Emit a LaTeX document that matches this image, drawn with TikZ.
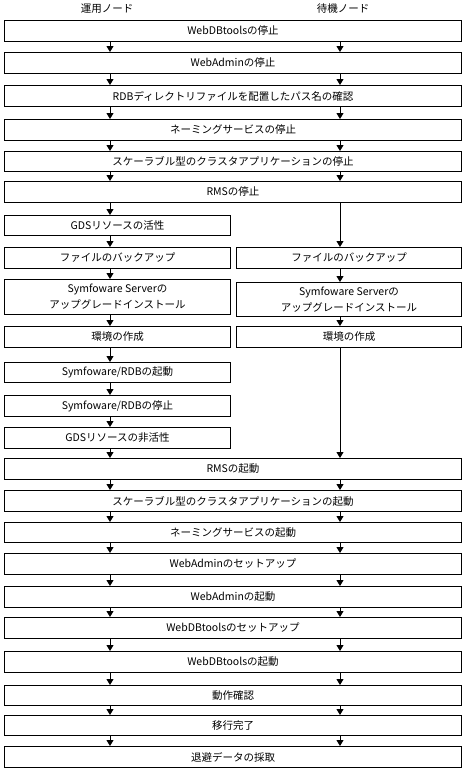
\documentclass[tikz,border=0pt]{standalone}
\usepackage{fontspec}
\setmainfont{Noto Sans CJK JP}
\usetikzlibrary{arrows.meta}
\tikzset{
  box/.style={draw, line width=1pt, inner sep=0pt, anchor=north west, align=center,
    font=\fontsize{10.5}{16}\selectfont},
  full/.style={box, minimum width=457, minimum height=21},
  lbox/.style={box, minimum width=226, minimum height=21},
  rbox/.style={box, minimum width=225, minimum height=21},
  hdr/.style={inner sep=0pt, font=\fontsize{10.5}{13}\selectfont},
  arr/.style={line width=1pt, -{Triangle[width=7pt,length=6pt]}}
}
\begin{document}
\begin{tikzpicture}[x=1pt,y=-1pt]
\useasboundingbox (0,0) rectangle (466,774);
\fill[white] (0,0) rectangle (466,774);
\coordinate (cL) at (110,0);
\coordinate (cR) at (340,0);
\node[hdr] (h1) at (107,9) {運用ノード};
\node[hdr] (h2) at (343,9) {待機ノード};

\node[full] (b1) at (4,20) {WebDBtoolsの停止};
\node[full] (b2) at (4,52) {WebAdminの停止};
\node[full] (b3) at (4,85) {RDBディレクトリファイルを配置したパス名の確認};
\node[full] (b4) at (4,119) {ネーミングサービスの停止};
\node[full, minimum height=20] (b5) at (4,151) {スケーラブル型のクラスタアプリケーションの停止};
\node[full] (b6) at (4,181) {RMSの停止};

\node[lbox, minimum height=20] (l1) at (4,215) {GDSリソースの活性};
\node[lbox] (l2) at (4,247) {ファイルのバックアップ};
\node[rbox] (r2) at (236,247) {ファイルのバックアップ};
\node[lbox, minimum height=35] (l3) at (4,279) {Symfoware Serverの\\アップグレードインストール};
\node[rbox, minimum height=34] (r3) at (236,282) {Symfoware Serverの\\アップグレードインストール};
\node[lbox] (l4) at (4,326) {環境の作成};
\node[rbox] (r4) at (236,326) {環境の作成};
\node[lbox, minimum height=20] (l5) at (4,362) {Symfoware/RDBの起動};
\node[lbox] (l6) at (4,395) {Symfoware/RDBの停止};
\node[lbox] (l7) at (4,427) {GDSリソースの非活性};

\node[full] (b7) at (4,458) {RMSの起動};
\node[full] (b8) at (4,490) {スケーラブル型のクラスタアプリケーションの起動};
\node[full, minimum height=20] (b9) at (4,522) {ネーミングサービスの起動};
\node[full] (b10) at (4,553) {WebAdminのセットアップ};
\node[full] (b11) at (4,586) {WebAdminの起動};
\node[full] (b12) at (4,617) {WebDBtoolsのセットアップ};
\node[full] (b13) at (4,651) {WebDBtoolsの起動};
\node[full, minimum height=20] (b14) at (4,685) {動作確認};
\node[full, minimum height=20] (b15) at (4,715) {移行完了};
\node[full] (b16) at (4,746) {退避データの採取};

% arrows on both columns between full boxes
\foreach \a/\b in {b1/b2,b2/b3,b3/b4,b4/b5,b5/b6,b7/b8,b8/b9,b9/b10,b10/b11,b11/b12,b12/b13,b13/b14,b14/b15,b15/b16}{
  \draw[arr] (\a.south -| cL) -- (\b.north -| cL);
  \draw[arr] (\a.south -| cR) -- (\b.north -| cR);
}
% left column
\foreach \a/\b in {b6/l1,l1/l2,l2/l3,l3/l4,l4/l5,l5/l6,l6/l7,l7/b7}{
  \draw[arr] (\a.south -| cL) -- (\b.north -| cL);
}
% right column
\foreach \a/\b in {b6/r2,r2/r3,r3/r4,r4/b7}{
  \draw[arr] (\a.south -| cR) -- (\b.north -| cR);
}
\end{tikzpicture}
\end{document}
